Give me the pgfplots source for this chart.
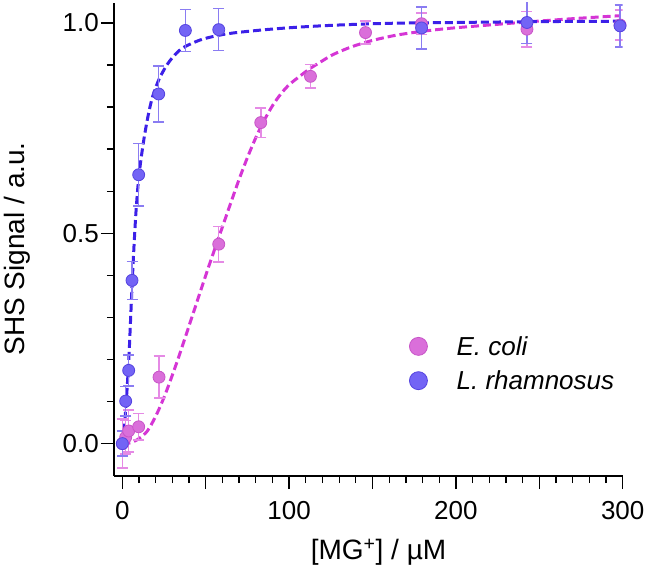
\documentclass[border=0pt]{standalone}
\usepackage{fontspec}
\setmainfont{Liberation Sans}
\usepackage{pgfplots}
\pgfplotsset{compat=1.18}
\definecolor{bfill}{HTML}{7364F5}
\definecolor{bedge}{HTML}{5544E0}
\definecolor{berr}{HTML}{8A7CF2}
\definecolor{bline}{HTML}{3C20E8}
\definecolor{mfill}{HTML}{DA6FDA}
\definecolor{medge}{HTML}{C855C8}
\definecolor{merr}{HTML}{E58AE5}
\definecolor{mline}{HTML}{D535D5}
\newcommand{\fs}{\fontsize{26bp}{31bp}\selectfont}
\newcommand{\fl}{\fontsize{28bp}{33bp}\selectfont}
\pgfplotstableread{
x y e
0 0.0 0.058
2 0.015 0.04
3.8 0.03 0.05
9.8 0.04 0.032
22 0.158 0.05
57.8 0.474 0.042
83 0.763 0.035
112.8 0.873 0.028
145.8 0.977 0.027
179.4 0.998 0.026
242.6 0.985 0.042
298.4 0.995 0.036
}\ecoli
\pgfplotstableread{
x y e
0 0.0 0.03
2 0.101 0.035
3.8 0.174 0.037
5.8 0.388 0.045
9.8 0.639 0.074
21.8 0.831 0.067
37.8 0.982 0.05
57.8 0.984 0.05
179.4 0.988 0.05
242.6 1.001 0.05
298.4 0.993 0.05
}\lrham
\begin{document}
\begin{tikzpicture}
\path[use as bounding box] (0,0) rectangle (647bp,573bp);
\begin{axis}[
  at={(114bp,97bp)}, anchor=south west,
  scale only axis, width=508.7bp, height=473.3bp,
  xmin=-5, xmax=300, ymin=-0.077, ymax=1.048,
  axis x line*=bottom, axis y line*=left,
  axis line style={-, line width=1.3bp, black},
  tick align=outside, major tick length=13bp, minor tick length=7bp,
  major tick style={line width=1.3bp, black},
  minor tick style={line width=1.3bp, black},
  xtick={0,100,200,300}, xticklabels={0,100,200,300}, minor x tick num=9,
  extra x ticks={50,150,250}, extra x tick labels={},
  extra x tick style={minor x tick num=0},
  ytick={0,0.5,1}, yticklabels={0.0,0.5,1.0}, minor y tick num=4,
  /pgf/number format/assume math mode=true,
  tick label style={font=\fs},
  yticklabel style={inner xsep=2bp},
  xticklabel style={yshift=-9bp},
  xlabel={[MG\textsuperscript{+}] / µM},
  ylabel={SHS Signal / a.u.},
  every axis x label/.style={at={(axis description cs:0.52,-0.162)}, anchor=center, font=\fl},
  every axis y label/.style={at={(axis description cs:-0.19,0.48)}, anchor=center, rotate=90, font=\fl},
  legend style={draw=none, fill=none, font=\fs, at={(axis description cs:0.58,0.30)}, anchor=north west, inner sep=0pt, row sep=10bp},
  legend cell align=left,
  legend image code/.code={\draw[#1, mark size=9bp] plot coordinates {(0bp,0bp)}; \path (-9bp,0bp) (36bp,0bp);},
]
\addplot[mline, line width=3bp, dash pattern=on 8bp off 4bp, smooth, forget plot] coordinates {
(0,0) (5,0.002) (10,0.012) (15,0.03) (20,0.065) (25,0.11) (30,0.163) (35,0.22) (40,0.28) (45,0.34) (50,0.40) (55,0.458) (60,0.515) (65,0.572) (70,0.628) (75,0.68) (80,0.727) (85,0.768) (90,0.803) (95,0.831) (100,0.853) (106,0.872) (112,0.89) (118,0.905) (126,0.924) (136,0.941) (146,0.954) (156,0.964) (166,0.972) (180,0.98) (196,0.987) (220,0.995) (242,1.002) (270,1.01) (298,1.017)
};
\addplot[bline, line width=3bp, dash pattern=on 8bp off 4bp, smooth, forget plot] coordinates {
(0,0) (1,0.035) (2,0.08) (3,0.14) (4,0.21) (5,0.30) (6,0.39) (7,0.47) (8,0.54) (9,0.595) (10,0.638) (11.5,0.685) (13.4,0.735) (16,0.79) (18.4,0.828) (22,0.866) (26.4,0.898) (31,0.922) (36.4,0.941) (46.4,0.959) (56,0.969) (66.4,0.976) (86,0.984) (106,0.99) (130,0.995) (160,0.999) (200,1.001) (250,1.003) (298,1.004)
};
\addplot[draw=none, mark=none, forget plot, error bars/.cd, y dir=both, y explicit,
  error bar style={merr, line width=1.5bp},
  error mark options={merr, rotate=90, mark size=5.5bp, line width=1.5bp}]
  table[x=x, y=y, y error=e] {\ecoli};
\addplot[only marks, mark=*, mark size=6bp, mark options={fill=mfill, draw=medge, line width=0.8bp}]
  table[x=x, y=y] {\ecoli};
\addlegendentry{\textit{E. coli}}
\addplot[draw=none, mark=none, forget plot, error bars/.cd, y dir=both, y explicit,
  error bar style={berr, line width=1.5bp},
  error mark options={berr, rotate=90, mark size=5.5bp, line width=1.5bp}]
  table[x=x, y=y, y error=e] {\lrham};
\addplot[only marks, mark=*, mark size=6bp, mark options={fill=bfill, draw=bedge, line width=0.8bp}]
  table[x=x, y=y] {\lrham};
\addlegendentry{\textit{L. rhamnosus}}
\end{axis}
\end{tikzpicture}
\end{document}
